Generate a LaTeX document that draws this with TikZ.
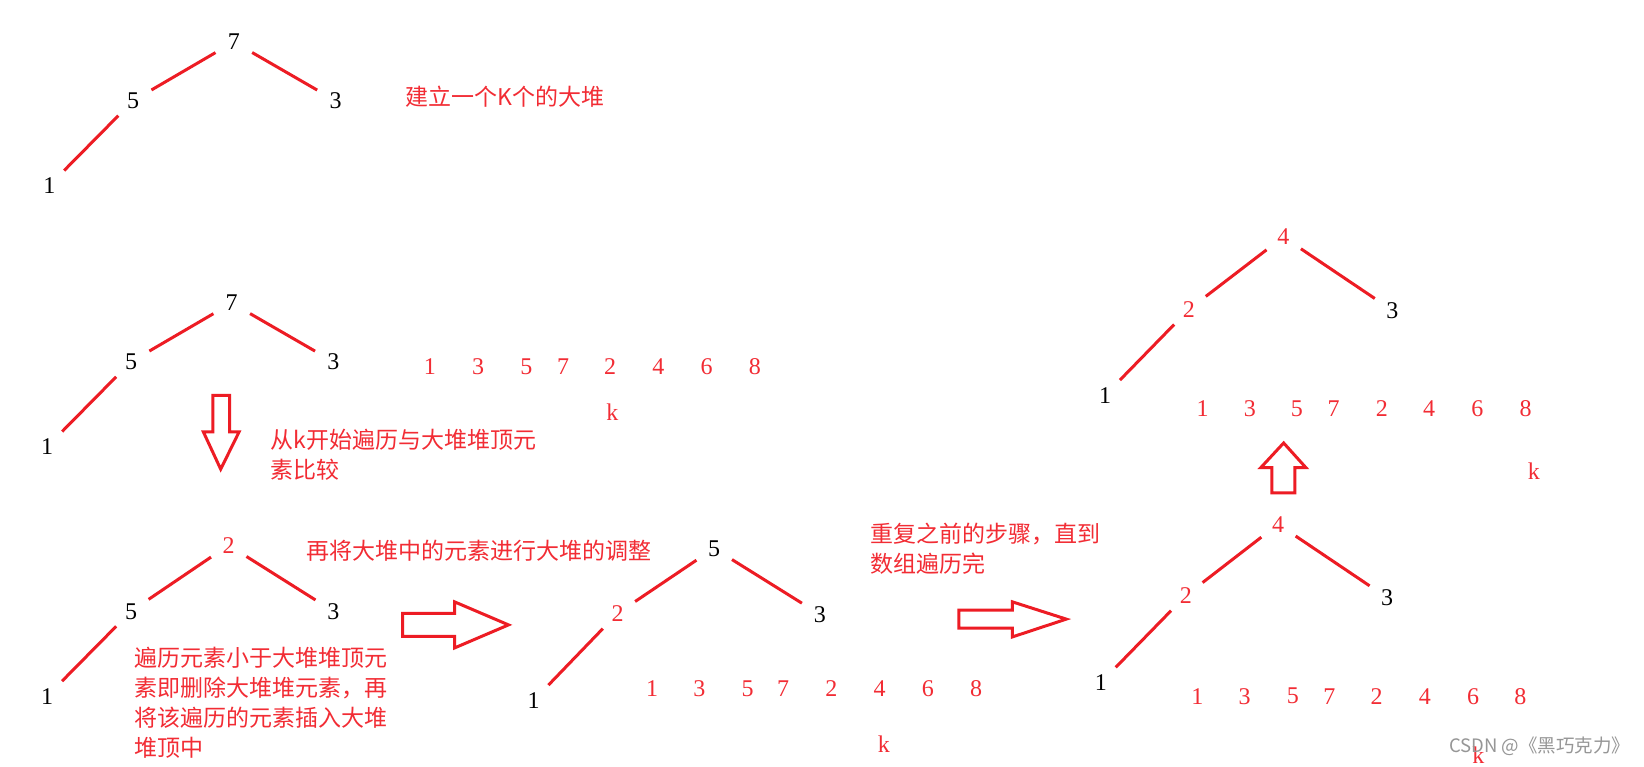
\documentclass[tikz,border=0pt]{standalone}
\usepackage{fontspec}
\setmainfont{Liberation Serif}
\newfontfamily\cjk{Noto Sans CJK SC}
\definecolor{pr}{RGB}{237,28,36}
\definecolor{tr}{RGB}{242,44,52}
\definecolor{wm}{RGB}{150,150,150}
\tikzset{
  num/.style={circle,inner sep=0pt,minimum size=34pt,font=\fontsize{24}{28}\selectfont,text=black},
  rnum/.style={num,text=tr},
  arr/.style={inner sep=0pt,font=\fontsize{24}{28}\selectfont,text=tr},
  edge/.style={draw=pr,line width=3pt,shorten <=4pt,shorten >=4pt},
  note/.style={inner sep=0pt,anchor=west,align=left,text=tr,font=\cjk\fontsize{23}{30}\selectfont},
  blk/.style={draw=pr,line width=3pt,fill=white,line join=miter}
}
\begin{document}
\begin{tikzpicture}[x=1.0485pt,y=-1.0485pt]
\useasboundingbox (0,0) rectangle (1568,731);
\fill[white] (0,0) rectangle (1568,731);

% tree 1
\node[num] (a7) at (223,40) {7};
\node[num] (a5) at (127,96) {5};
\node[num] (a3) at (320,96) {3};
\node[num] (a1) at (47,177) {1};
\draw[edge] (a5) -- (a7);
\draw[edge] (a7) -- (a3);
\draw[edge] (a1) -- (a5);
\node[note] (t1) at (387,92) {建立一个K个的大堆};

% tree 2
\node[num] (b7) at (221,289) {7};
\node[num] (b5) at (125,345) {5};
\node[num] (b3) at (318,345) {3};
\node[num] (b1) at (45,426) {1};
\draw[edge] (b5) -- (b7);
\draw[edge] (b7) -- (b3);
\draw[edge] (b1) -- (b5);

% array 1
\foreach \v/\dx [count=\i] in {1/0,3/46,5/92,7/127,2/172,4/218,6/264,8/310}
  \node[arr] (p\i) at (410+\dx,350) {\v};
\node[arr] (k1) at (584,393) {k};

% down arrow
\draw[blk] (203,377) -- (219,377) -- (219,412) -- (228,412) -- (210.5,447.5) -- (194,412) -- (203,412) -- cycle;
\node[note] (t2) at (258,434) {从k开始遍历与大堆堆顶元\\素比较};

% tree 3
\node[rnum] (c2) at (218,520) {2};
\node[num] (c5) at (125,583) {5};
\node[num] (c3) at (318,583) {3};
\node[num] (c1) at (45,664) {1};
\draw[edge] (c5) -- (c2);
\draw[edge] (c2) -- (c3);
\draw[edge] (c1) -- (c5);
\node[note] (t3) at (292,525) {再将大堆中的元素进行大堆的调整};
\node[note] (t4) at (128,670.5) {遍历元素小于大堆堆顶元\\素即删除大堆堆元素，再\\将该遍历的元素插入大堆\\堆顶中};

% right arrow 1
\draw[blk] (384,585) -- (433.5,585) -- (433.5,574) -- (485,596) -- (433.5,618) -- (433.5,607) -- (384,607) -- cycle;

% tree 4
\node[num] (d5) at (681,523) {5};
\node[rnum] (d2) at (589,585) {2};
\node[num] (d3) at (782,586) {3};
\node[num] (d1) at (509,668) {1};
\draw[edge] (d2) -- (d5);
\draw[edge] (d5) -- (d3);
\draw[edge] (d1) -- (d2);

% array 2
\foreach \v/\dx [count=\i] in {1/0,3/45,5/91,7/125,2/171,4/217,6/263,8/309}
  \node[arr] (q\i) at (622+\dx,657) {\v};
\node[arr] (k2) at (843,710) {k};

\node[note] (t5) at (830,523) {重复之前的步骤，直到\\数组遍历完};

% right arrow 2
\draw[blk] (914.5,582) -- (965.5,582) -- (965.5,574) -- (1017,590.5) -- (965.5,607.5) -- (965.5,599) -- (914.5,599) -- cycle;

% tree 5
\node[rnum] (e4) at (1219,500) {4};
\node[rnum] (e2) at (1131,568) {2};
\node[num] (e3) at (1323,570) {3};
\node[num] (e1) at (1050,651) {1};
\draw[edge] (e2) -- (e4);
\draw[edge] (e4) -- (e3);
\draw[edge] (e1) -- (e2);

% array 3
\foreach \v/\dx [count=\i] in {1/0,3/45,5/91,7/126,2/171,4/217,6/263,8/308}
  \node[arr] (r\i) at (1142+\dx,664) {\v};
\node[arr] (k3) at (1410,720) {k};

% up arrow
\draw[blk] (1213,470) -- (1235,470) -- (1235,446) -- (1245.5,446) -- (1224.3,422.5) -- (1202.5,446) -- (1213,446) -- cycle;

% tree 6
\node[rnum] (f4) at (1224,226) {4};
\node[rnum] (f2) at (1134,295) {2};
\node[num] (f3) at (1328,296) {3};
\node[num] (f1) at (1054,377) {1};
\draw[edge] (f2) -- (f4);
\draw[edge] (f4) -- (f3);
\draw[edge] (f1) -- (f2);

% array 4
\foreach \v/\dx [count=\i] in {1/0,3/45,5/90,7/125,2/171,4/216,6/262,8/308}
  \node[arr] (s\i) at (1147+\dx,390) {\v};
\node[arr] (k4) at (1463,449) {k};

% watermark
\node[inner sep=0pt,anchor=east,text=wm,font=\cjk\fontsize{18.5}{22}\selectfont] (wmk) at (1555,712) {CSDN @《黑巧克力》};
\end{tikzpicture}
\end{document}
